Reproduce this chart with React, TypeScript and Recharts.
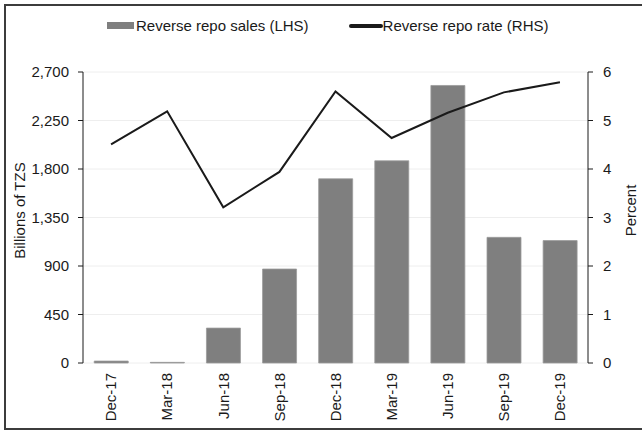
import React from "react";
import { Bar, CartesianGrid, ComposedChart, Legend, Line, XAxis, YAxis } from "recharts";

const categories = ["Dec-17", "Mar-18", "Jun-18", "Sep-18", "Dec-18", "Mar-19", "Jun-19", "Sep-19", "Dec-19"];
const repoSales = [18, 6, 324, 872, 1709, 1876, 2575, 1166, 1136];
const repoRate = [4.51, 5.19, 3.21, 3.94, 5.6, 4.64, 5.16, 5.58, 5.79];
const leftTicks = [0, 450, 900, 1350, 1800, 2250, 2700];
const rightTicks = [0, 1, 2, 3, 4, 5, 6];
const edgeTicks = [0, 1, 2, 3, 4, 5, 6, 7, 8, 9];

const data = categories.map((label, i) => ({ label, sales: repoSales[i], rate: repoRate[i] }));

const FONT = "'Liberation Sans', Arial, sans-serif";
const INK = "#1a1a1a";
const tickStyle = { fontSize: 15, fill: INK, fontFamily: FONT };

function RotatedTick({ x, y, payload }: any) {
  return (
    <text
      x={x}
      y={y}
      transform={`rotate(-90 ${x} ${y})`}
      textAnchor="end"
      dy="0.35em"
      style={tickStyle}
    >
      {payload.value}
    </text>
  );
}

function LegendContent({ payload }: any) {
  // bars first, like the original legend
  const items = [...(payload || [])].sort((a: any, b: any) => (a.type === "line" ? 1 : 0) - (b.type === "line" ? 1 : 0));
  return (
    <div style={{ display: "flex", alignItems: "center", paddingLeft: 107, fontFamily: FONT, fontSize: 15, color: INK }}>
      {items.map((p: any) => (
        <div key={p.value} style={{ display: "flex", alignItems: "center", marginRight: 40 }}>
          {p.type === "line" ? (
            <span style={{ width: 34, height: 4, borderRadius: 2, background: INK, display: "inline-block" }} />
          ) : (
            <span style={{ width: 27, height: 7, background: "#7f7f7f", display: "inline-block", marginRight: 2 }} />
          )}
          <span>{p.value}</span>
        </div>
      ))}
    </div>
  );
}

export default function App() {
  return (
    <div style={{ position: "absolute", left: 0, top: 0, width: 642, height: 434, background: "#fff" }}>
      <div
        style={{
          position: "absolute",
          left: 4,
          top: 4,
          width: 660,
          height: 426,
          border: "2px solid #3c3c3c",
          boxSizing: "border-box",
        }}
      />
      <ComposedChart
        width={642}
        height={434}
        data={data}
        margin={{ top: 55, right: 0, bottom: 0, left: 0 }}
        barCategoryGap="20%"
        style={{ position: "absolute", left: 0, top: 0 }}
      >
        <CartesianGrid yAxisId="l" xAxisId="cat" vertical={false} stroke="#eeeeee" />
        <XAxis
          xAxisId={0}
          type="number"
          domain={[0, 9]}
          ticks={edgeTicks}
          allowDataOverflow
          height={0}
          tick={false}
          tickSize={5}
          stroke={INK}
        />
        <XAxis
          xAxisId="cat"
          dataKey="label"
          interval={0}
          height={71}
          axisLine={false}
          tickLine={false}
          tickSize={0}
          tickMargin={10}
          tick={<RotatedTick />}
        />
        <YAxis
          yAxisId="l"
          width={83}
          domain={[0, 2700]}
          ticks={leftTicks}
          tickFormatter={(v: number) => v.toLocaleString("en-US")}
          tick={tickStyle}
          tickSize={5}
          tickMargin={9}
          stroke={INK}
          label={{
            value: "Billions of TZS",
            angle: -90,
            position: "center",
            dx: -22,
            dy: -7,
            style: { fontSize: 15, fill: INK, fontFamily: FONT },
          }}
        />
        <YAxis
          yAxisId="r"
          orientation="right"
          width={54}
          domain={[0, 6]}
          ticks={rightTicks}
          tick={tickStyle}
          tickSize={5}
          tickMargin={10}
          stroke={INK}
          label={{
            value: "Percent",
            angle: -90,
            position: "center",
            dx: 16,
            dy: -7,
            style: { fontSize: 15, fill: INK, fontFamily: FONT },
          }}
        />
        <Legend
          verticalAlign="top"
          content={<LegendContent />}
          wrapperStyle={{ left: 0, top: 17, width: 642 }}
        />
        <Bar
          xAxisId="cat"
          yAxisId="l"
          dataKey="sales"
          name="Reverse repo sales (LHS)"
          fill="#7f7f7f"
          stroke="#9c9c9c"
          strokeWidth={0.8}
          legendType="rect"
          isAnimationActive={false}
        />
        <Line
          xAxisId="cat"
          yAxisId="r"
          dataKey="rate"
          name="Reverse repo rate (RHS)"
          stroke={INK}
          strokeWidth={2}
          dot={false}
          legendType="line"
          isAnimationActive={false}
        />
      </ComposedChart>
    </div>
  );
}
